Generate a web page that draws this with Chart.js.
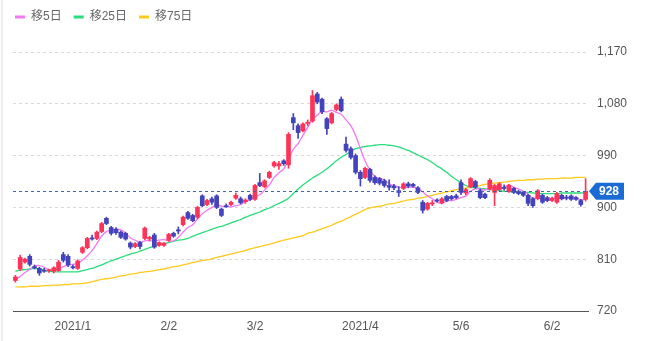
<!DOCTYPE html>
<html>
<head>
<meta charset="utf-8">
<script src="https://cdn.jsdelivr.net/npm/chart.js@4.4.0/dist/chart.umd.min.js"></script>
<style>
html,body{margin:0;padding:0;background:#fff;}
#wrap{position:relative;width:646px;height:341px;}
#edge{position:absolute;left:1px;top:0;width:2px;height:341px;background:#eeeeee;}
canvas{display:block;}
</style>
</head>
<body>
<div id="wrap"><div id="edge"></div><canvas id="c" width="646" height="341"></canvas></div>
<script>
const dates = [
'2020/12/15','2020/12/16','2020/12/17','2020/12/18','2020/12/21','2020/12/22','2020/12/23','2020/12/24','2020/12/25','2020/12/28','2020/12/29','2020/12/30',
'2021/01/04','2021/01/05','2021/01/06','2021/01/07','2021/01/08','2021/01/12','2021/01/13','2021/01/14','2021/01/15','2021/01/18','2021/01/19','2021/01/20','2021/01/21','2021/01/22','2021/01/25','2021/01/26','2021/01/27','2021/01/28','2021/01/29',
'2021/02/01','2021/02/02','2021/02/03','2021/02/04','2021/02/05','2021/02/08','2021/02/09','2021/02/10','2021/02/12','2021/02/15','2021/02/16','2021/02/17','2021/02/18','2021/02/19','2021/02/22','2021/02/24','2021/02/25','2021/02/26',
'2021/03/01','2021/03/02','2021/03/03','2021/03/04','2021/03/05','2021/03/08','2021/03/09','2021/03/10','2021/03/11','2021/03/12','2021/03/15','2021/03/16','2021/03/17','2021/03/18','2021/03/19','2021/03/22','2021/03/23','2021/03/24','2021/03/25','2021/03/26','2021/03/29','2021/03/30','2021/03/31',
'2021/04/01','2021/04/02','2021/04/05','2021/04/06','2021/04/07','2021/04/08','2021/04/09','2021/04/12','2021/04/13','2021/04/14','2021/04/15','2021/04/16','2021/04/19','2021/04/20','2021/04/21','2021/04/22','2021/04/23','2021/04/26','2021/04/27','2021/04/28','2021/04/30',
'2021/05/06','2021/05/07','2021/05/10','2021/05/11','2021/05/12','2021/05/13','2021/05/14','2021/05/17','2021/05/18','2021/05/19','2021/05/20','2021/05/21','2021/05/24','2021/05/25','2021/05/26','2021/05/27','2021/05/28','2021/05/31',
'2021/06/01','2021/06/02','2021/06/03','2021/06/04','2021/06/07','2021/06/08','2021/06/09','2021/06/10','2021/06/11'
];

const open = [773,793,805,815,797,794,791,790,789,790,
818,815,797,794,822,830,847,846,858,881,
865,862,857,855,838,832,839,846,845,852,
834,834,843,855,861,870,891,886,883,920,
905,915,920,897,903,905,916,915,910,921,
914,943,936,952,972,972,981,974,1056,1042,
1033,1046,1050,1097,1088,1054,1047,1070,1088,1010,
1002,990,961,952,966,952,950,946,938,937,
929,933,941,940,934,909,897,906,913,908,
919,919,920,943,925,936,945,929,923,932,
926,931,935,928,933,928,926,921,915,915,
921,917,912,909,921,918,920,917,912,914];

const high = [782,817,812,818,800,796,794,793,797,808,
822,818,800,809,832,848,852,859,874,883,
867,865,859,857,840,839,841,866,850,855,
840,839,855,857,866,885,893,888,902,922,
914,918,922,899,906,911,925,918,915,923,
940,959,948,963,980,980,983,1030,1063,1045,
1047,1052,1103,1100,1090,1056,1065,1080,1092,1022,
1005,993,964,970,968,955,952,949,948,940,
936,943,944,942,936,912,909,912,915,917,
921,921,923,948,933,952,947,932,925,950,
940,943,939,940,935,930,928,923,917,931,
923,919,918,926,923,921,922,919,914,950];

const low = [770,790,803,798,793,782,787,787,786,789,
805,797,793,792,820,828,843,844,856,870,
852,853,846,843,828,830,828,844,842,829,
832,832,841,848,854,868,879,875,880,901,
903,905,898,884,900,903,914,906,907,912,
912,936,934,950,970,966,973,968,1035,1020,
1031,1042,1048,1080,1063,1027,1045,1068,1066,996,
984,958,937,950,944,940,939,935,930,931,
919,931,934,935,924,890,895,903,909,906,
910,913,915,922,922,934,933,915,915,930,
903,929,930,926,924,922,919,903,900,913,
907,910,910,907,913,913,912,912,902,911];

const close = [779,813,810,801,795,786,789,790,795,805,
808,800,795,807,830,846,845,857,872,872,
855,856,848,845,831,837,832,864,848,831,
839,838,853,850,859,883,881,877,900,903,
912,909,900,886,901,909,921,908,913,914,
938,938,946,961,978,976,976,1027,1047,1030,
1045,1048,1094,1083,1066,1037,1063,1078,1068,999,
987,961,950,968,947,943,942,938,935,934,
926,941,937,937,926,895,907,908,911,915,
912,915,917,926,931,950,935,917,917,947,
938,941,933,938,926,924,921,907,903,929,
909,912,916,924,915,916,914,914,905,928];

const ma5 = [775,780,787,792,798,799,796,792,791,793,
797,800,801,803,808,816,825,837,850,858,
860,862,861,855,847,843,839,842,842,842,
843,844,842,842,848,857,865,870,880,889,
895,900,905,902,902,901,903,905,910,913,
919,922,930,939,952,960,967,984,1001,1011,
1025,1039,1053,1060,1067,1066,1069,1065,1062,1052,
1042,1025,1002,980,965,954,950,948,941,938,
935,935,935,935,933,927,920,915,909,907,
911,912,914,917,920,928,932,932,930,933,
931,932,935,939,935,932,928,923,916,917,
914,912,914,918,915,917,917,917,913,915];

const ma25 = [789,791,792,793,794,793,791,789,788,788,
788,788,788,788,790,792,794,797,800,804,
807,810,813,816,819,821,824,827,830,833,
835,837,839,841,843,844,846,850,853,856,
859,862,865,867,870,873,876,879,883,886,
889,892,896,899,903,907,911,916,924,932,
939,945,951,956,961,967,974,981,987,992,
997,1002,1004,1006,1007,1008,1009,1009,1008,1007,
1005,1002,999,995,991,987,983,978,972,967,
961,954,948,943,938,935,934,933,932,931,
930,929,928,928,927,927,926,926,925,924,
924,924,924,924,925,925,925,925,925,925];

const ma75 = [762,762,762,763,763,763,764,764,765,765,
766,766,767,767,768,769,771,773,775,776,
777,779,781,782,784,785,787,788,789,790,
792,793,795,797,798,800,802,804,806,808,
809,811,813,815,817,819,821,823,825,828,
830,832,834,836,838,841,843,845,847,849,
851,855,857,860,863,866,869,873,876,880,
884,888,892,896,899,901,902,904,906,907,
909,911,913,914,916,917,919,921,923,925,
927,929,931,932,934,935,937,938,940,941,
942,943,944,945,946,947,947,948,948,949,
949,950,950,950,951,951,951,952,952,952];

const seriesNames = ['移5日','移25日','移75日'];
const yTicks = [720,810,900,990,1080,1170];
const xTickDates = ['2021/01/04','2021/02/02','2021/03/02','2021/04/01','2021/05/06','2021/06/02'];
const xTickTexts = ['2021/1','2/2','3/2','2021/4','5/6','6/2'];

const UP = '#ff3357';
const DOWN = '#4343bb';
const LINE_COLORS = ['#f277f2','#2bdc7c','#ffca1a'];
const FONT = "'Liberation Sans', 'Noto Sans CJK JP', sans-serif";

const candleColor = (ctx) => close[ctx.dataIndex] >= open[ctx.dataIndex] ? UP : DOWN;

const legendTweak = {
  id: 'legendTweak',
  beforeLayout(chart) {
    const lg = chart.legend;
    if (lg && !lg._tweaked) {
      lg._tweaked = true;
      const fit = lg.fit.bind(lg);
      lg.fit = function () { fit(); this.height = 52; };
      const draw = lg.draw.bind(lg);
      lg.draw = function () {
        const c = this.ctx; c.save(); c.translate(-10, -1); draw(); c.restore();
      };
    }
  }
};

const lastPrice = {
  id: 'lastPrice',
  afterDatasetsDraw(chart) {
    const {ctx, chartArea, scales} = chart;
    const v = close[close.length - 1];
    const y = Math.round(scales.y.getPixelForValue(v)) + 0.5;
    ctx.save();
    ctx.strokeStyle = '#3f64a8';
    ctx.lineWidth = 1;
    ctx.setLineDash([3, 3]);
    ctx.beginPath();
    ctx.moveTo(chartArea.left, y);
    ctx.lineTo(chartArea.right, y);
    ctx.stroke();
    ctx.restore();
  },
  afterDraw(chart) {
    const {ctx, chartArea, scales} = chart;
    const v = close[close.length - 1];
    const y = scales.y.getPixelForValue(v);
    const tip = chartArea.right + 1;
    const bx = tip + 7, bw = 28, h = 17;
    ctx.save();
    ctx.fillStyle = '#1a6bd3';
    ctx.beginPath();
    ctx.moveTo(tip, y);
    ctx.lineTo(bx, y - h / 2);
    ctx.lineTo(bx + bw, y - h / 2);
    ctx.lineTo(bx + bw, y + h / 2);
    ctx.lineTo(bx, y + h / 2);
    ctx.closePath();
    ctx.fill();
    ctx.fillStyle = '#ffffff';
    ctx.font = 'bold 12px ' + FONT;
    ctx.textAlign = 'center';
    ctx.textBaseline = 'middle';
    ctx.fillText(String(v), bx + bw / 2 - 1, y + 0.5);
    ctx.restore();
  }
};

const lineDs = [ma5, ma25, ma75].map((d, k) => ({
  type: 'line',
  label: seriesNames[k],
  data: d,
  borderColor: LINE_COLORS[k],
  backgroundColor: LINE_COLORS[k],
  borderWidth: 1.3,
  pointRadius: 0,
  tension: 0.35,
  fill: false,
  order: 2
}));

new Chart(document.getElementById('c'), {
  type: 'bar',
  data: {
    labels: dates,
    datasets: [
      ...lineDs,
      {
        label: 'wick',
        data: dates.map((d, i) => [low[i], high[i]]),
        backgroundColor: candleColor,
        barThickness: 1,
        grouped: false,
        borderWidth: 0,
        order: 1
      },
      {
        label: 'body',
        data: dates.map((d, i) => [open[i], close[i]]),
        backgroundColor: candleColor,
        barThickness: 4,
        minBarLength: 1,
        grouped: false,
        borderWidth: 0,
        order: 0
      }
    ]
  },
  options: {
    responsive: false,
    devicePixelRatio: 1,
    animation: false,
    layout: {padding: {left: 13, top: 0, right: 0, bottom: 0}},
    plugins: {
      tooltip: {enabled: false},
      legend: {
        position: 'top',
        align: 'start',
        labels: {
          boxWidth: 10,
          boxHeight: 3,
          padding: 12,
          color: '#666666',
          font: {family: FONT, size: 12},
          generateLabels: (chart) => seriesNames.map((n, k) => ({
            text: n,
            fillStyle: LINE_COLORS[k],
            strokeStyle: LINE_COLORS[k],
            lineWidth: 0,
            hidden: false,
            datasetIndex: k,
            fontColor: '#666666'
          }))
        }
      }
    },
    scales: {
      x: {
        type: 'category',
        offset: true,
        grid: {display: false, drawTicks: false},
        border: {display: true, color: '#555555', width: 1},
        ticks: {
          autoSkip: false,
          maxRotation: 0,
          padding: 8,
          color: '#555555',
          font: {family: FONT, size: 12},
          callback: (value) => {
            const k = xTickDates.indexOf(dates[value]);
            return k >= 0 ? xTickTexts[k] : null;
          }
        },
        afterFit: (s) => { s.height = 30; }
      },
      y: {
        position: 'right',
        min: 720,
        max: 1170,
        afterBuildTicks: (s) => { s.ticks = yTicks.map(v => ({value: v})); },
        grid: {
          drawTicks: false,
          color: (ctx) => (ctx.tick && ctx.tick.value === 720) ? 'rgba(0,0,0,0)' : '#d9d9d9',
          lineWidth: 1
        },
        border: {display: false, dash: [3, 3]},
        ticks: {
          padding: 9,
          color: '#555555',
          font: {family: FONT, size: 12},
          callback: (v) => Number(v).toLocaleString('en-US')
        },
        afterFit: (s) => { s.width = 58; }
      }
    }
  },
  plugins: [legendTweak, lastPrice]
});
</script>
</body>
</html>
